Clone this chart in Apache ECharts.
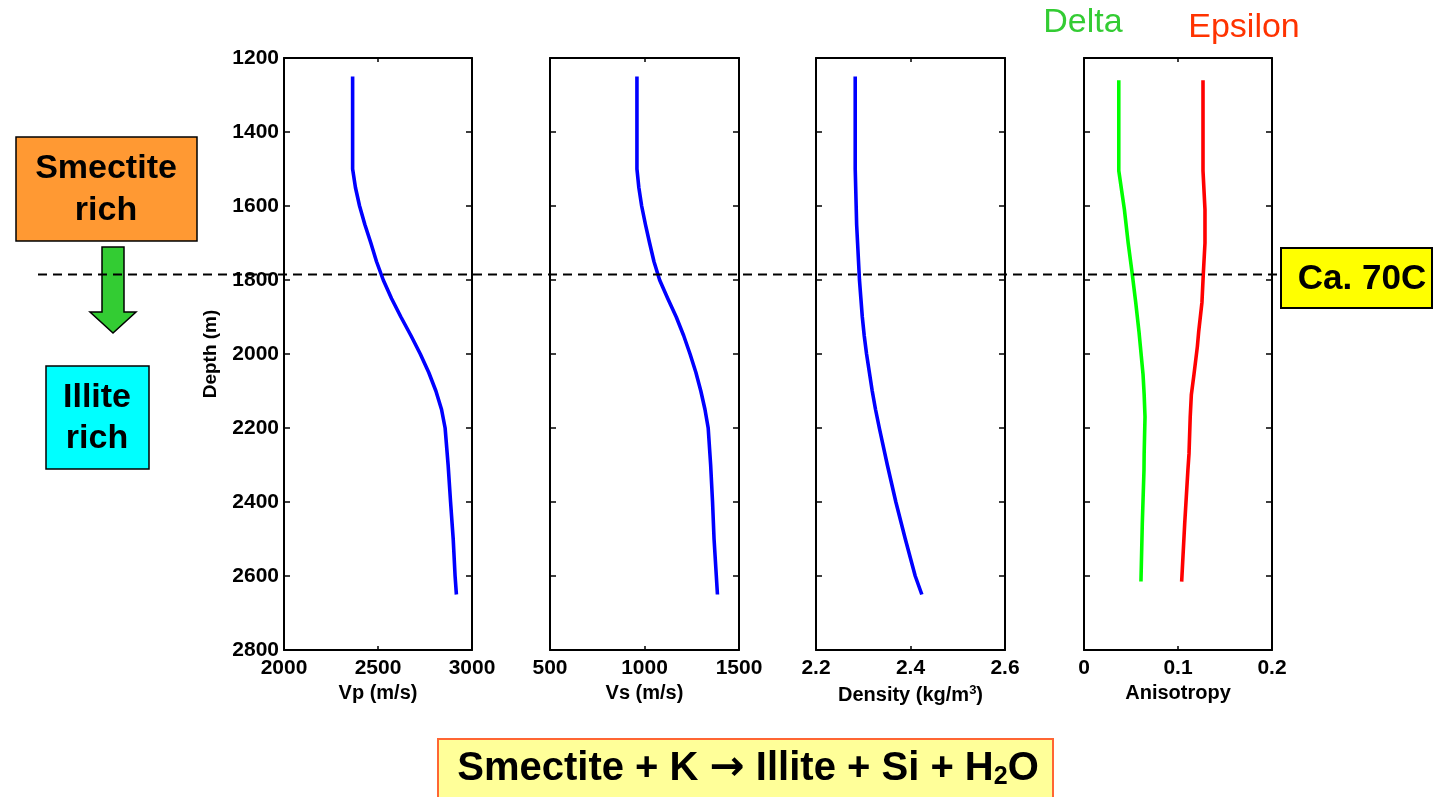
<!DOCTYPE html>
<html><head><meta charset="utf-8">
<script src="https://cdn.jsdelivr.net/npm/echarts@6/dist/echarts.min.js"></script>
<style>html,body{margin:0;padding:0;background:#fff}#c{width:1435px;height:797px}</style>
</head><body><div id="c"></div>
<script>
// ---- data ----
const depth   = [1250,1500,1550,1600,1650,1700,1750,1800,1850,1900,1950,2000,2050,2100,2150,2200,2300,2400,2500,2600,2650];
const vp      = [2365,2365,2380,2402,2430,2462,2492,2528,2572,2622,2675,2725,2770,2808,2838,2857,2873,2886,2900,2910,2917];
const vs      = [960,960,970,985,1005,1027,1050,1080,1123,1168,1207,1241,1272,1298,1320,1337,1350,1360,1368,1380,1386];
const density = [2.283,2.283,2.284,2.285,2.286,2.288,2.290,2.292,2.295,2.298,2.302,2.307,2.313,2.319,2.326,2.334,2.351,2.369,2.389,2.410,2.424];
const anisoDepth = [1260,1505,1610,1700,1785,1860,1940,1980,2055,2110,2170,2270,2315,2460,2615];
const delta   = [0.037,0.037,0.043,0.047,0.0514,0.055,0.0585,0.060,0.0628,0.064,0.0649,0.064,0.0638,0.062,0.0606];
const epsilon = [0.1266,0.1266,0.1287,0.1287,0.1269,0.1255,0.1220,0.1206,0.1170,0.1142,0.1130,0.1117,0.1105,0.1071,0.1039];
const transitionDepth = 1785;
const xNames  = ['Vp (m/s)','Vs (m/s)','Density (kg/m{sup|3})','Anisotropy'];
const xRanges = [[2000,3000,500],[500,1500,500],[2.2,2.6,0.2],[0,0.2,0.1]];
const yRange  = [1200,2800,200];

const FONT = 'Liberation Sans, Arial, Helvetica, sans-serif';
const panels = [{left:284,width:188},{left:550,width:189},{left:816,width:189},{left:1084,width:188}];
const TOP = 58, HEIGHT = 592;

const zip = (xs, ys) => xs.map((v,i)=>[v, ys[i]]);
const fmt = [v=>String(v), v=>String(v), v=>v.toFixed(1), v=>v===0?'0':v.toFixed(1)];

const grid = panels.map(p=>({left:p.left, width:p.width, top:TOP, height:HEIGHT, containLabel:false}));
const axisLine = {show:true, onZero:false, lineStyle:{color:'#000', width:2}};
const xAxis = [], yAxis = [];
panels.forEach((p,i)=>{
  const [mn,mx,iv] = xRanges[i];
  xAxis.push({type:'value', gridIndex:i, position:'bottom', min:mn, max:mx, interval:iv,
    axisLine, splitLine:{show:false},
    axisTick:{show:true, inside:true, length:4, lineStyle:{color:'#000', width:1.5}},
    axisLabel:{show:true, margin:8, color:'#000', fontFamily:FONT, fontWeight:'bold', fontSize:21,
      formatter:fmt[i], showMinLabel:true, showMaxLabel:true},
    name:xNames[i], nameLocation:'middle', nameGap:31,
    nameTextStyle:{color:'#000', fontFamily:FONT, fontWeight:'bold', fontSize:20,
      rich:{sup:{fontSize:13, fontWeight:'bold', fontFamily:FONT, color:'#000', verticalAlign:'top', padding:[0,0,10,0]}}}
  });
  xAxis.push({type:'value', gridIndex:i, position:'top', min:mn, max:mx, interval:iv,
    axisLine, splitLine:{show:false},
    axisTick:{show:true, inside:true, length:4, lineStyle:{color:'#000', width:1.5}},
    axisLabel:{show:false}});
  yAxis.push({type:'value', gridIndex:i, position:'left', inverse:true,
    min:yRange[0], max:yRange[1], interval:yRange[2],
    axisLine, splitLine:{show:false},
    axisTick:{show:true, inside:true, length:6, lineStyle:{color:'#000', width:1.5}},
    axisLabel:{show:i===0, margin:5, color:'#000', fontFamily:FONT, fontWeight:'bold', fontSize:21,
      formatter:v=>String(v), showMinLabel:true, showMaxLabel:true},
    name:i===0?'Depth (m)':'', nameLocation:'middle', nameGap:64, nameRotate:90,
    nameTextStyle:{color:'#000', fontFamily:FONT, fontWeight:'bold', fontSize:19}
  });
  yAxis.push({type:'value', gridIndex:i, position:'right', inverse:true,
    min:yRange[0], max:yRange[1], interval:yRange[2],
    axisLine, splitLine:{show:false},
    axisTick:{show:true, inside:true, length:6, lineStyle:{color:'#000', width:1.5}},
    axisLabel:{show:false}});
});

const line = (name, xi, data, color) => ({
  name, type:'line', xAxisIndex:xi*2, yAxisIndex:xi*2, data, showSymbol:false, symbol:'none',
  smooth:false, lineStyle:{color, width:3.6, join:'round'}, itemStyle:{color}, animation:false, silent:true
});

const series = [
  line('Vp',0,zip(vp,depth),'#0000FF'),
  line('Vs',1,zip(vs,depth),'#0000FF'),
  line('Density',2,zip(density,depth),'#0000FF'),
  line('Delta',3,zip(delta,anisoDepth),'#00FF00'),
  line('Epsilon',3,zip(epsilon,anisoDepth),'#FF0000')
];

const boxText = (x,y,text,size) => ({type:'text', x, y, style:{text, fill:'#000', font:`bold ${size}px ${FONT}`, align:'center', verticalAlign:'middle'}, z:20});

const graphic = [
  // Smectite rich box
  {type:'rect', shape:{x:16,y:137,width:181,height:104}, style:{fill:'#FF9933', stroke:'#000', lineWidth:1.5}, z:10},
  boxText(106,169,'Smectite',34), boxText(106,211,'rich',34),
  // arrow
  {type:'polygon', shape:{points:[[102,247],[124,247],[124,312],[136,312],[113,333],[90,312],[102,312]]},
    style:{fill:'#33CC33', stroke:'#000', lineWidth:1.5}, z:10},
  // Illite rich box
  {type:'rect', shape:{x:46,y:366,width:103,height:103}, style:{fill:'#00FFFF', stroke:'#000', lineWidth:1.5}, z:10},
  boxText(97,398,'Illite',34), boxText(97,439,'rich',34),
  // Ca. 70C box
  {type:'rect', shape:{x:1281,y:248,width:151,height:60}, style:{fill:'#FFFF00', stroke:'#000', lineWidth:2}, z:10},
  boxText(1362,279,'Ca. 70C',35),
  // Delta / Epsilon labels
  {type:'text', x:1083, y:23, style:{text:'Delta', fill:'#33CC33', font:`34px ${FONT}`, align:'center', verticalAlign:'middle'}, z:20},
  {type:'text', x:1244, y:28, style:{text:'Epsilon', fill:'#FF3300', font:`34px ${FONT}`, align:'center', verticalAlign:'middle'}, z:20},
  // reaction box
  {type:'rect', shape:{x:438,y:739,width:615,height:70}, style:{fill:'#FFFF99', stroke:'#FF6633', lineWidth:2}, z:10},
  {type:'text', x:748, y:769, z:20, style:{
    text:'Smectite + K {arr|\u2192} Illite + Si + H{sub|2}O', fill:'#000', font:`bold 40px ${FONT}`,
    align:'center', verticalAlign:'middle',
    rich:{
      arr:{fontSize:42, fontWeight:'bold', fontFamily:'DejaVu Sans', fill:'#000'},
      sub:{fontSize:25, fontWeight:'bold', fontFamily:FONT, fill:'#000', verticalAlign:'bottom', padding:[15,0,0,0]}}}}
];

const chart = echarts.init(document.getElementById('c'), null, {renderer:'canvas'});
chart.setOption({backgroundColor:'#fff', animation:false, grid, xAxis, yAxis, series, graphic});
const yDash = chart.convertToPixel({yAxisIndex:0}, transitionDepth);
graphic.push({type:'line', shape:{x1:38,y1:yDash,x2:1280,y2:yDash},
  style:{stroke:'#000', lineWidth:2, lineDash:[9,6]}, z:30});
chart.setOption({graphic}, {replaceMerge:['graphic']});
</script></body></html>
